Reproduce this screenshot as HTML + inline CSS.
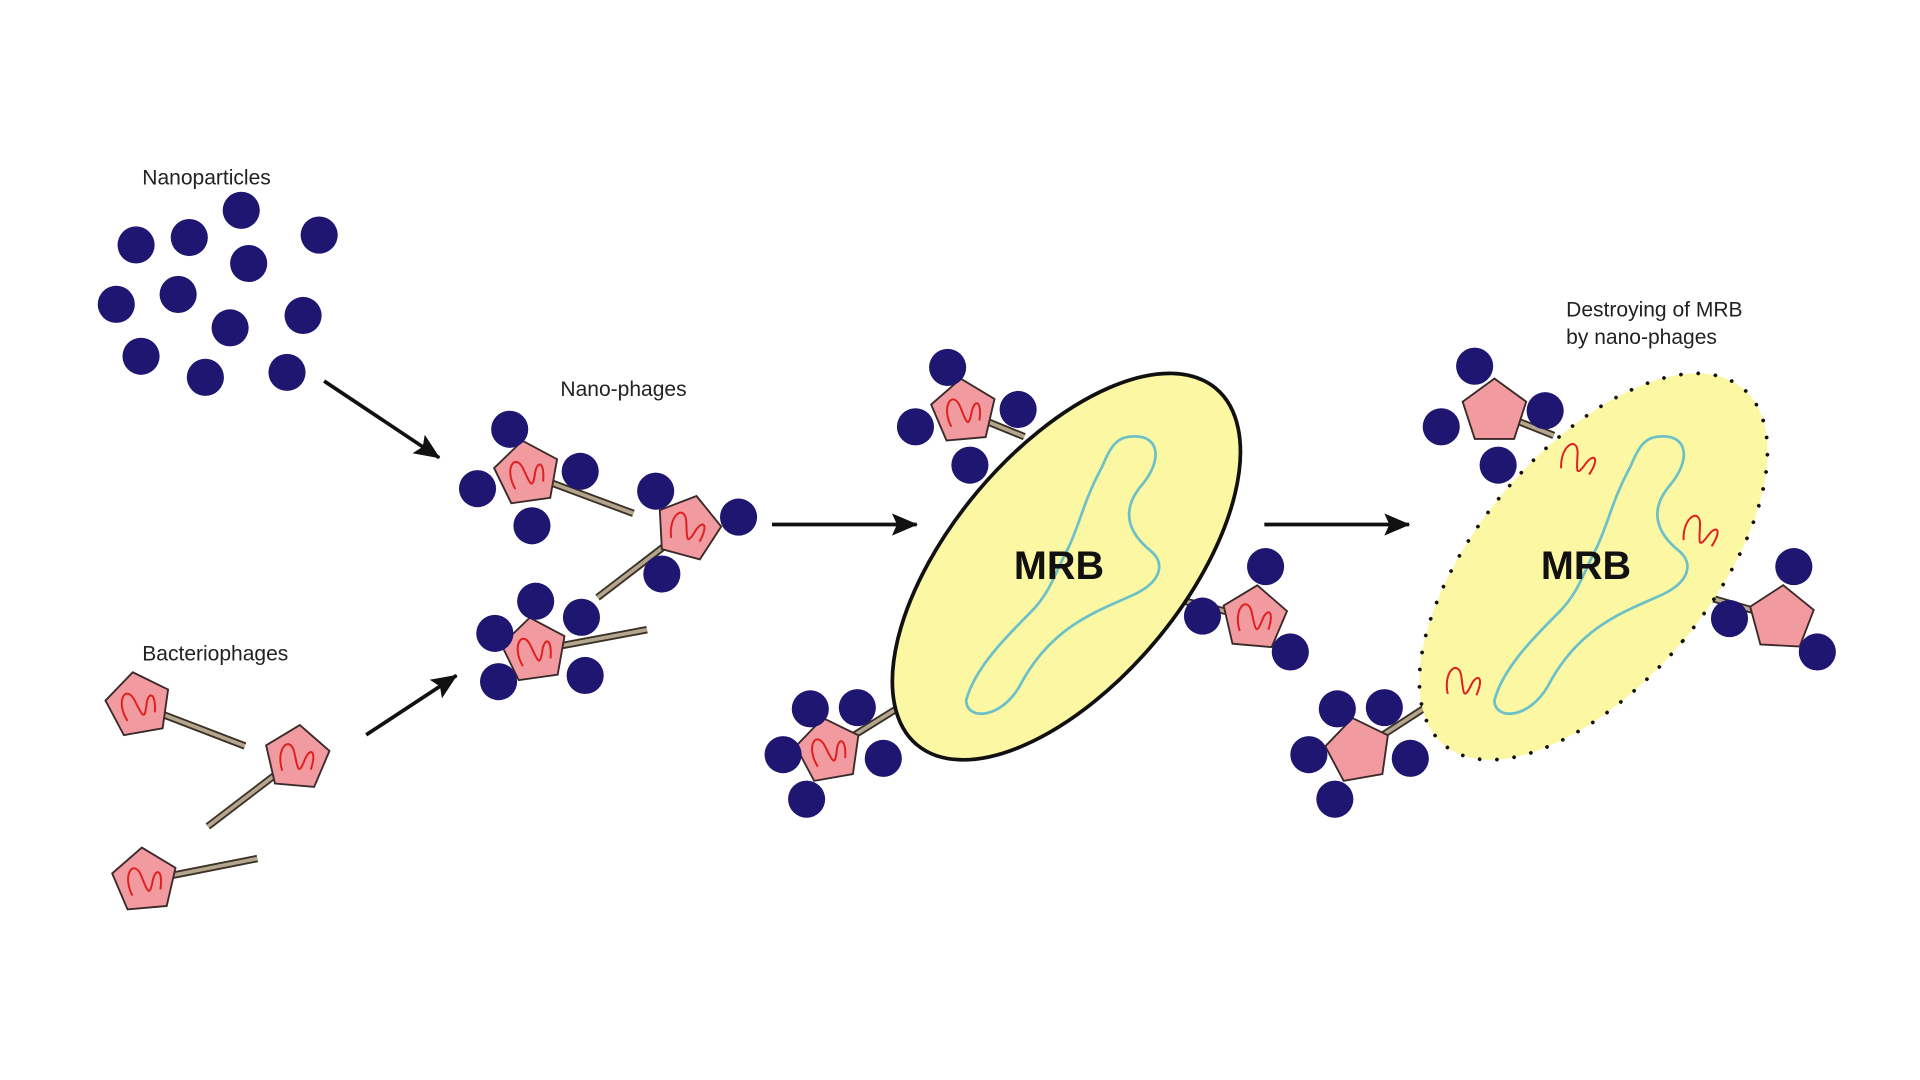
<!DOCTYPE html>
<html><head><meta charset="utf-8"><style>
html,body{margin:0;padding:0;background:#fff;width:1920px;height:1080px;overflow:hidden}
svg{display:block}
text{font-family:"Liberation Sans",sans-serif;fill:#222}
</style></head><body>
<svg width="1920" height="1080" viewBox="0 0 1552 873" xmlns="http://www.w3.org/2000/svg">
<defs>
<g id="pent">
<polygon points="0,-27 25.7,-8.3 15.9,21.8 -15.9,21.8 -25.7,-8.3" fill="#f19aa0" stroke="#3a2a2a" stroke-width="1.5"/>
</g>
<g id="sq">
<path d="M-11,11 C-18,-6 -8,-18 -3,-6 C1,6 2,15 6,2 C9,-10 16,-9 12,8" fill="none" stroke="#e02020" stroke-width="1.6"/>
</g>
<g id="ph"><use href="#pent"/><use href="#sq"/></g>
<marker id="ah" markerWidth="22" markerHeight="18" refX="20" refY="9" orient="auto" markerUnits="userSpaceOnUse">
<path d="M0,0 L21,9 L0,18 L4,9 Z" fill="#111"/></marker>
</defs>
<style>
.np{fill:#1f1672}
.t1{stroke:#3a3024;stroke-width:6;stroke-linecap:butt}
.t2{stroke:#b3a58e;stroke-width:3}
.ar{stroke:#111;stroke-width:3;fill:none}
</style>

<text x="115" y="149" font-size="17">Nanoparticles</text>
<g class="np">
<circle cx="110" cy="198" r="15"/><circle cx="153" cy="192" r="15"/><circle cx="195" cy="170" r="15"/><circle cx="258" cy="190" r="15"/>
<circle cx="201" cy="213" r="15"/><circle cx="94" cy="246" r="15"/><circle cx="144" cy="238" r="15"/><circle cx="186" cy="265" r="15"/>
<circle cx="245" cy="255" r="15"/><circle cx="114" cy="288" r="15"/><circle cx="166" cy="305" r="15"/><circle cx="232" cy="301" r="15"/>
</g>
<line x1="262" y1="308" x2="355" y2="370" class="ar" marker-end="url(#ah)"/>

<text x="115" y="534" font-size="17">Bacteriophages</text>
<line x1="112" y1="570" x2="198" y2="603" class="t1"/><line x1="112" y1="570" x2="198" y2="603" class="t2"/>
<use href="#ph" transform="translate(112,570) rotate(-10)"/>
<line x1="240" y1="613" x2="168" y2="668" class="t1"/><line x1="240" y1="613" x2="168" y2="668" class="t2"/>
<use href="#ph" transform="translate(240,613) rotate(5)"/>
<line x1="117" y1="712" x2="208" y2="694" class="t1"/><line x1="117" y1="712" x2="208" y2="694" class="t2"/>
<use href="#ph" transform="translate(117,712) rotate(-5)"/>
<line x1="296" y1="594" x2="369" y2="546" class="ar" marker-end="url(#ah)"/>

<text x="453" y="320" font-size="17">Nano-phages</text>
<line x1="426" y1="383" x2="512" y2="415" class="t1"/><line x1="426" y1="383" x2="512" y2="415" class="t2"/>
<use href="#ph" transform="translate(426,383) rotate(-8)"/>
<g class="np"><circle cx="412" cy="347" r="15"/><circle cx="469" cy="381" r="15"/><circle cx="386" cy="395" r="15"/><circle cx="430" cy="425" r="15"/></g>
<line x1="556" y1="427" x2="483" y2="483" class="t1"/><line x1="556" y1="427" x2="483" y2="483" class="t2"/>
<use href="#ph" transform="translate(556,427) rotate(15)"/>
<g class="np"><circle cx="530" cy="397" r="15"/><circle cx="597" cy="418" r="15"/><circle cx="535" cy="464" r="15"/></g>
<line x1="432" y1="526" x2="523" y2="509" class="t1"/><line x1="432" y1="526" x2="523" y2="509" class="t2"/>
<use href="#ph" transform="translate(432,526) rotate(-8)"/>
<g class="np"><circle cx="433" cy="486" r="15"/><circle cx="470" cy="499" r="15"/><circle cx="400" cy="512" r="15"/><circle cx="403" cy="551" r="15"/><circle cx="473" cy="546" r="15"/></g>
<line x1="624" y1="424" x2="741" y2="424" class="ar" marker-end="url(#ah)"/>

<line x1="779" y1="333" x2="828" y2="353" class="t1"/><line x1="779" y1="333" x2="828" y2="353" class="t2"/>
<line x1="1014" y1="500" x2="958" y2="486" class="t1"/><line x1="1014" y1="500" x2="958" y2="486" class="t2"/>
<line x1="670" y1="607" x2="728" y2="571" class="t1"/><line x1="670" y1="607" x2="728" y2="571" class="t2"/>
<ellipse cx="862" cy="458" rx="94" ry="188" transform="rotate(40 862 458)" fill="#fbf7a3" stroke="#111" stroke-width="3"/>
<path id="nuc" d="M913,353 C938,350 940,372 923,392 C906,412 911,430 931,446 C942,456 938,470 918,480 C888,494 850,505 824,555 C808,582 781,582 781,566 C788,540 813,515 833,495 C850,478 854,460 864,442 C874,420 876,405 891,377 C898,360 903,354 913,353 Z" fill="none" stroke="#6cc0c8" stroke-width="2.2"/>
<text x="856" y="468" font-size="32" font-weight="bold" text-anchor="middle" style="fill:#111">MRB</text>
<use href="#ph" transform="translate(779,333) rotate(-5)"/>
<g class="np"><circle cx="766" cy="297" r="15"/><circle cx="823" cy="331" r="15"/><circle cx="740" cy="345" r="15"/><circle cx="784" cy="376" r="15"/></g>
<use href="#ph" transform="translate(1014,500) rotate(5)"/>
<g class="np"><circle cx="1023" cy="458" r="15"/><circle cx="972" cy="498" r="15"/><circle cx="1043" cy="527" r="15"/></g>
<use href="#ph" transform="translate(670,607) rotate(-10)"/>
<g class="np"><circle cx="655" cy="573" r="15"/><circle cx="693" cy="572" r="15"/><circle cx="633" cy="610" r="15"/><circle cx="714" cy="613" r="15"/><circle cx="652" cy="646" r="15"/></g>
<line x1="1022" y1="424" x2="1139" y2="424" class="ar" marker-end="url(#ah)"/>

<text x="1266" y="256" font-size="17">Destroying of MRB</text>
<text x="1266" y="278" font-size="17">by nano-phages</text>
<line x1="1208" y1="333" x2="1256" y2="352" class="t1"/><line x1="1208" y1="333" x2="1256" y2="352" class="t2"/>
<line x1="1440" y1="500" x2="1385" y2="484" class="t1"/><line x1="1440" y1="500" x2="1385" y2="484" class="t2"/>
<line x1="1098" y1="607" x2="1152" y2="572" class="t1"/><line x1="1098" y1="607" x2="1152" y2="572" class="t2"/>
<ellipse cx="1288" cy="458" rx="94" ry="188" transform="rotate(40 1288 458)" fill="#fbf7a3" stroke="#111" stroke-width="3" stroke-dasharray="0 14" stroke-linecap="round"/>
<use href="#nuc" transform="translate(427,0)"/>
<text x="1282" y="468" font-size="32" font-weight="bold" text-anchor="middle" style="fill:#111">MRB</text>
<use href="#sq" transform="translate(1276,372) rotate(20)"/>
<use href="#sq" transform="translate(1375,430) rotate(20)"/>
<use href="#sq" transform="translate(1183,552) rotate(10)"/>
<use href="#pent" transform="translate(1208,333) rotate(0)"/>
<g class="np"><circle cx="1192" cy="296" r="15"/><circle cx="1249" cy="332" r="15"/><circle cx="1165" cy="345" r="15"/><circle cx="1211" cy="376" r="15"/></g>
<use href="#pent" transform="translate(1440,500) rotate(3)"/>
<g class="np"><circle cx="1450" cy="458" r="15"/><circle cx="1398" cy="500" r="15"/><circle cx="1469" cy="527" r="15"/></g>
<use href="#pent" transform="translate(1098,607) rotate(-10)"/>
<g class="np"><circle cx="1081" cy="573" r="15"/><circle cx="1119" cy="572" r="15"/><circle cx="1058" cy="610" r="15"/><circle cx="1140" cy="613" r="15"/><circle cx="1079" cy="646" r="15"/></g>
</svg>
</body></html>
